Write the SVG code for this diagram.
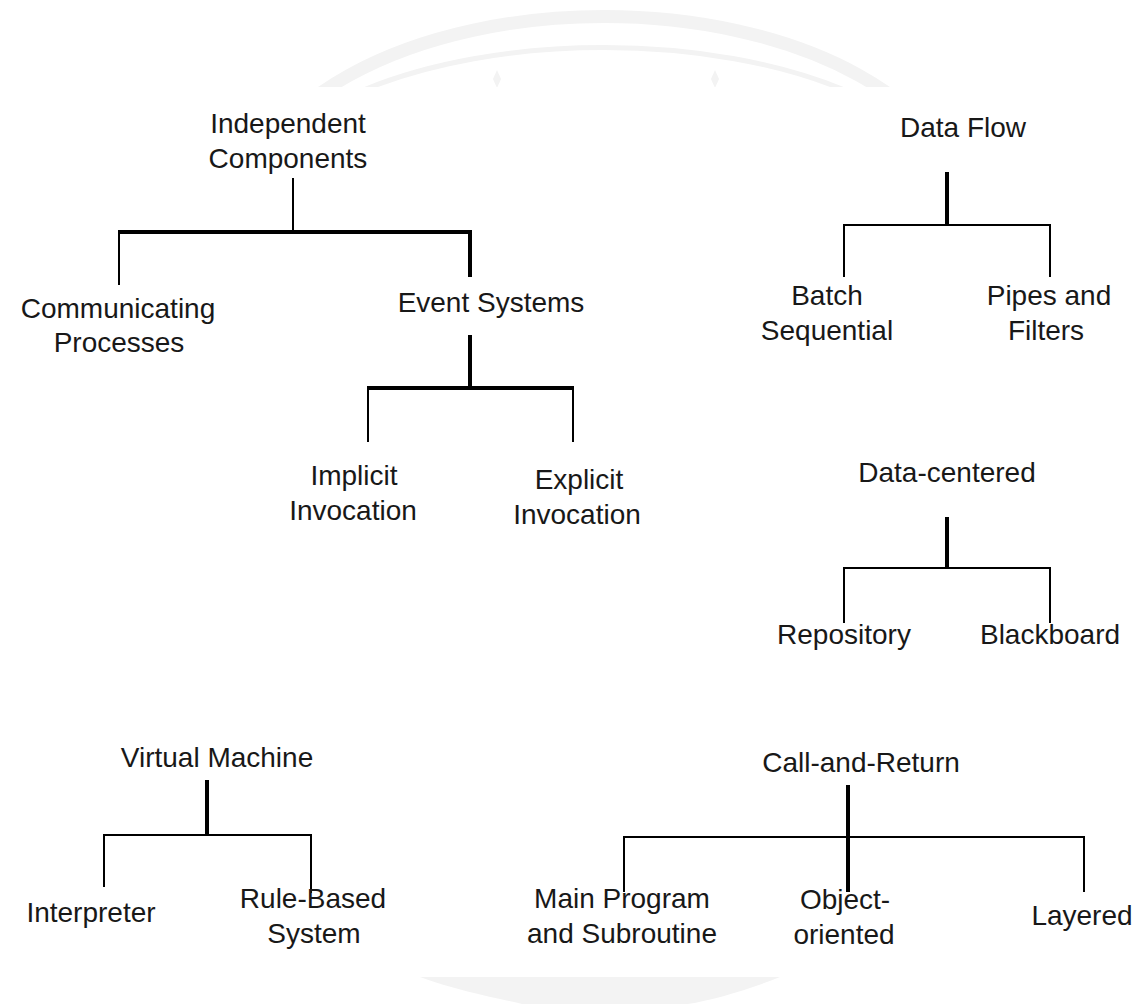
<svg xmlns="http://www.w3.org/2000/svg" width="1140" height="1004" viewBox="0 0 1140 1004">
  <defs>
    <style>
      .lbl { font-family: "Liberation Sans", Arial, sans-serif; font-size: 28px; fill: #181818; text-anchor: middle; }
      .thin { stroke: #000; stroke-width: 2; fill: none; }
      .thick { stroke: #000; stroke-width: 4; fill: none; }
      .wm { fill: none; stroke: #f3f3f3; }
    </style>
    <clipPath id="topclip"><rect x="0" y="0" width="1140" height="87"/></clipPath>
  </defs>
  <rect width="1140" height="1004" fill="#fff"/>
  <g id="watermark">
    <g clip-path="url(#topclip)">
      <ellipse class="wm" cx="604" cy="216.5" rx="360" ry="200" stroke-width="13"/>
      <ellipse class="wm" cx="604" cy="207.5" rx="354" ry="160" stroke-width="5"/>
      <path d="M497 70 L501 79 L497 88 L493 79 Z" fill="#f3f3f3"/>
      <path d="M715 70 L719 79 L715 88 L711 79 Z" fill="#f3f3f3"/>
    </g>
    <path d="M420 977 L780 977 C748 990 712 1000 688 1004 L522 1004 C496 998 455 990 420 977 Z" fill="#f3f3f3"/>
  </g>
  <g id="connectors">
    <line class="thin" x1="293" y1="178" x2="293" y2="232"/>
    <line class="thick" x1="118" y1="232" x2="472" y2="232"/>
    <line class="thin" x1="119" y1="232" x2="119" y2="285"/>
    <line class="thick" x1="470" y1="232" x2="470" y2="277"/>
    <line class="thick" x1="470" y1="335" x2="470" y2="388"/>
    <line class="thick" x1="367" y1="388" x2="574" y2="388"/>
    <line class="thin" x1="368" y1="388" x2="368" y2="442"/>
    <line class="thin" x1="573" y1="388" x2="573" y2="442"/>
    <line class="thick" x1="947" y1="172" x2="947" y2="225"/>
    <line class="thin" x1="843" y1="225" x2="1051" y2="225"/>
    <line class="thin" x1="844" y1="225" x2="844" y2="277"/>
    <line class="thin" x1="1050" y1="225" x2="1050" y2="277"/>
    <line class="thick" x1="947" y1="517" x2="947" y2="568"/>
    <line class="thin" x1="843" y1="568" x2="1051" y2="568"/>
    <line class="thin" x1="844" y1="568" x2="844" y2="623"/>
    <line class="thin" x1="1050" y1="568" x2="1050" y2="623"/>
    <line class="thick" x1="207" y1="780" x2="207" y2="835"/>
    <line class="thin" x1="103" y1="835" x2="312" y2="835"/>
    <line class="thin" x1="104" y1="835" x2="104" y2="887"/>
    <line class="thin" x1="311" y1="835" x2="311" y2="893"/>
    <line class="thick" x1="848" y1="785" x2="848" y2="892"/>
    <line class="thin" x1="623" y1="837" x2="1085" y2="837"/>
    <line class="thin" x1="624" y1="837" x2="624" y2="892"/>
    <line class="thin" x1="1084" y1="837" x2="1084" y2="892"/>
  </g>
  <g id="independent-components"><text class="lbl" x="288" y="133">Independent</text><text class="lbl" x="288" y="168">Components</text></g>
  <g id="communicating-processes"><text class="lbl" x="118" y="318">Communicating</text><text class="lbl" x="119" y="352">Processes</text></g>
  <g id="event-systems"><text class="lbl" x="491" y="312">Event Systems</text></g>
  <g id="implicit-invocation"><text class="lbl" x="354" y="485">Implicit</text><text class="lbl" x="353" y="520">Invocation</text></g>
  <g id="explicit-invocation"><text class="lbl" x="579" y="489">Explicit</text><text class="lbl" x="577" y="524">Invocation</text></g>
  <g id="data-flow"><text class="lbl" x="963" y="137">Data Flow</text></g>
  <g id="batch-sequential"><text class="lbl" x="827" y="305">Batch</text><text class="lbl" x="827" y="340">Sequential</text></g>
  <g id="pipes-and-filters"><text class="lbl" x="1049" y="305">Pipes and</text><text class="lbl" x="1046" y="340">Filters</text></g>
  <g id="data-centered"><text class="lbl" x="947" y="482">Data-centered</text></g>
  <g id="repository"><text class="lbl" x="844" y="644">Repository</text></g>
  <g id="blackboard"><text class="lbl" x="1050" y="644">Blackboard</text></g>
  <g id="virtual-machine"><text class="lbl" x="217" y="767">Virtual Machine</text></g>
  <g id="interpreter"><text class="lbl" x="91" y="922">Interpreter</text></g>
  <g id="rule-based-system"><text class="lbl" x="313" y="908">Rule-Based</text><text class="lbl" x="314" y="943">System</text></g>
  <g id="call-and-return"><text class="lbl" x="861" y="772">Call-and-Return</text></g>
  <g id="main-program"><text class="lbl" x="622" y="908">Main Program</text><text class="lbl" x="622" y="943">and Subroutine</text></g>
  <g id="object-oriented"><text class="lbl" x="845" y="909">Object-</text><text class="lbl" x="844" y="944">oriented</text></g>
  <g id="layered"><text class="lbl" x="1082" y="925">Layered</text></g>
</svg>
